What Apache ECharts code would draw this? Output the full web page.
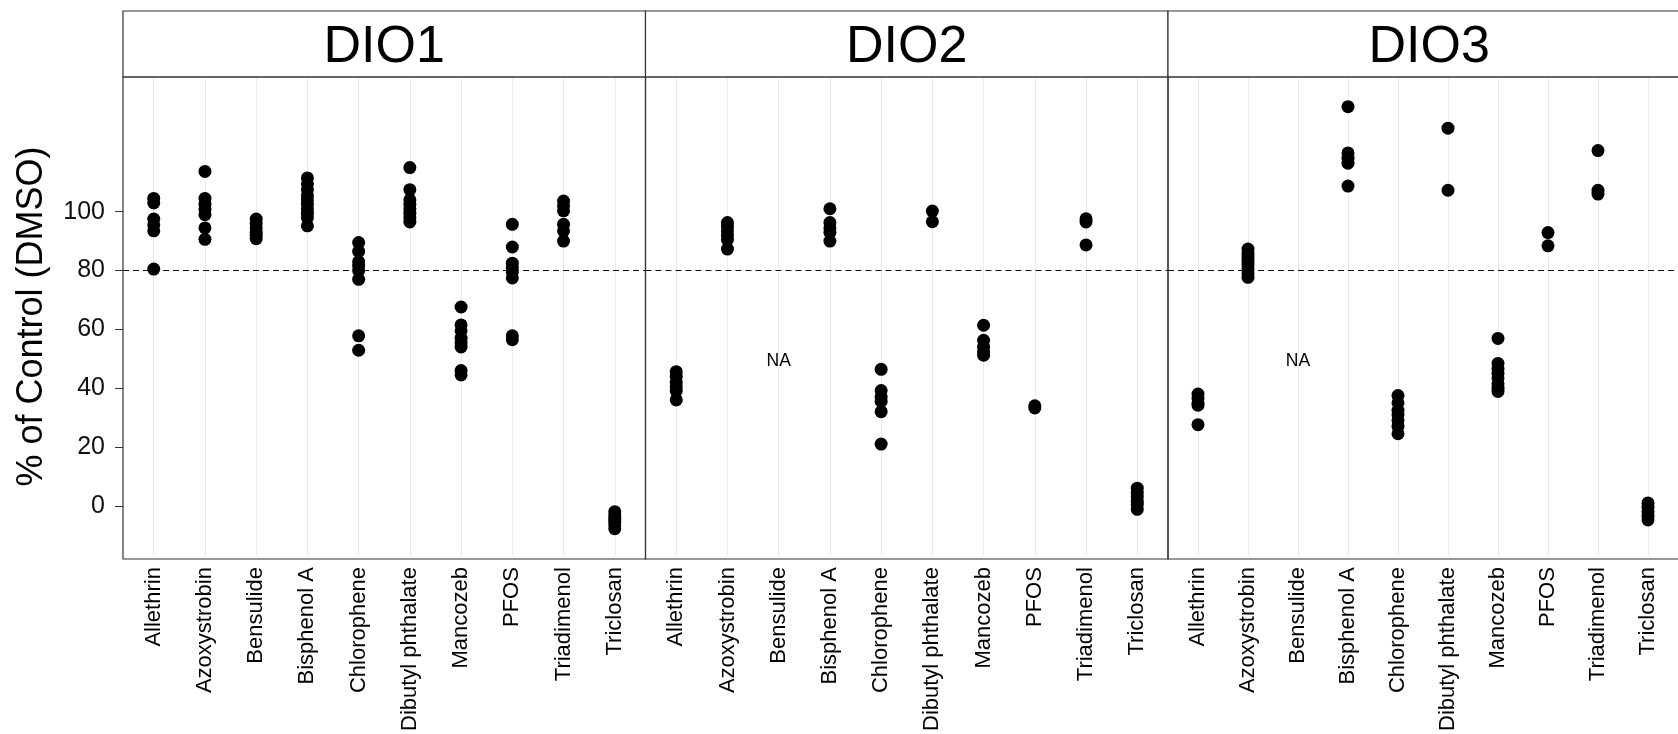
<!DOCTYPE html>
<html>
<head>
<meta charset="utf-8">
<script src="https://cdn.jsdelivr.net/npm/echarts@6/dist/echarts.min.js"></script>
<style>
html,body{margin:0;padding:0;background:#fff;overflow:hidden;}
#chart{width:1678px;height:734px;}
</style>
</head>
<body>
<div id="chart"></div>
<script>
// ---------- data ----------
const categories = ['Allethrin','Azoxystrobin','Bensulide','Bisphenol A','Chlorophene','Dibutyl phthalate','Mancozeb','PFOS','Triadimenol','Triclosan'];
const panels = ['DIO1','DIO2','DIO3'];
const yTicks = [0, 20, 40, 60, 80, 100];
const threshold = 80;
const naLabelY = 49.3;
const yTitle = '% of Control (DMSO)';

const dio1 = [
  [104.5, 103, 97.5, 95.5, 93.5, 80.5],
  [113.7, 104.5, 102.5, 100.8, 99, 94.5, 90.6],
  [97.5, 96, 94.5, 93, 92, 90.8],
  [111.5, 109.5, 107.5, 105.5, 104, 102.5, 101, 99.5, 98, 95.2],
  [89.5, 86.5, 83, 81.5, 80, 77, 57.8, 52.9],
  [115, 107.5, 104, 102.5, 101, 99.5, 98, 96.5],
  [67.6, 61.5, 59.5, 57, 55.5, 54, 46, 44.5],
  [95.7, 88, 82.5, 81, 79.5, 77.5, 57.8, 56.5],
  [103.6, 102, 100.3, 95.7, 93.5, 90],
  [-2, -3.5, -4.5, -5.5, -6.5, -7.8]
];
const dio2 = [
  [45.6, 44, 42, 40.5, 39, 36],
  [96.3, 95, 93.5, 92, 90.5, 87.3],
  [],
  [101, 96.3, 94.5, 93, 90],
  [46.4, 39.2, 37, 35.5, 32, 21],
  [100.2, 96.6],
  [61.4, 56.3, 54, 52.4, 51.2],
  [34, 33.3],
  [97.6, 96.5, 88.7],
  [6, 4.5, 3, 1.5, 0.5, -1.2]
];
const dio3 = [
  [38, 36.5, 35, 34.2, 27.6],
  [87.3, 86, 85, 84, 83, 82, 80.5, 79, 77.7],
  [],
  [135.7, 120, 118.2, 116.5, 108.7],
  [37.5, 35, 32.5, 31, 29, 27, 24.5],
  [128.4, 107.3],
  [56.9, 48.4, 46.5, 45, 43.5, 41.5, 40, 38.9],
  [92.9, 88.4],
  [120.8, 107.3, 106],
  [1, -0.5, -2, -3.5, -4.8]
];
const panelData = [dio1, dio2, dio3];

// ---------- layout ----------
const FONT = '"Liberation Sans", Arial, Helvetica, sans-serif';
const L = 123, PW = 522.5, TOP = 77, H = 482, STRIP_TOP = 11;
const Y_MIN = -17.1, Y_MAX = 145.8;
const catIdx = categories.map((c, i) => i);

const grids = [], xAxes = [], yAxes = [], series = [], graphics = [];

panels.forEach((p, pi) => {
  const left = L + pi * PW;
  grids.push({left: left, top: TOP, width: PW, height: H, containLabel: false});
  xAxes.push({
    type: 'value', gridIndex: pi, min: -0.6, max: 9.6, position: 'bottom',
    axisLine: {show: false, onZero: false},
    axisTick: {show: false, customValues: catIdx},
    axisLabel: {
      customValues: catIdx, rotate: 90, margin: 11, padding: [4, 0, 0, 0],
      fontFamily: FONT, fontSize: 22, color: '#000',
      formatter: v => categories[Math.round(v)]
    },
    splitLine: {show: true, lineStyle: {color: '#ebebeb', width: 1}}
  });
  yAxes.push({
    type: 'value', gridIndex: pi, min: Y_MIN, max: Y_MAX, position: 'left',
    axisLine: {show: false, onZero: false},
    axisTick: {show: pi === 0, customValues: yTicks, length: 8, lineStyle: {color: '#333', width: 1}},
    axisLabel: {show: pi === 0, customValues: yTicks, margin: 18, fontFamily: FONT, fontSize: 25, color: '#111'},
    splitLine: {show: false},
    name: pi === 0 ? yTitle : '',
    nameLocation: 'middle', nameRotate: 90, nameGap: 73,
    nameTextStyle: {fontFamily: FONT, fontSize: 36, color: '#000'}
  });

  const pts = [];
  panelData[pi].forEach((vals, ci) => vals.forEach(v => pts.push([ci, v])));
  series.push({
    type: 'scatter', xAxisIndex: pi, yAxisIndex: pi, z: 10,
    symbol: 'circle', symbolSize: 13,
    itemStyle: {color: '#000', opacity: 1},
    data: pts, silent: true
  });
  // threshold dashed line
  series.push({
    type: 'line', xAxisIndex: pi, yAxisIndex: pi, z: 1, data: [],
    markLine: {
      silent: true, symbol: ['none', 'none'], z: 1,
      label: {show: false},
      lineStyle: {type: [6, 4], color: '#111', width: 1},
      data: [{yAxis: threshold}]
    }
  });
  // NA labels for empty categories
  const naPts = [];
  panelData[pi].forEach((vals, ci) => { if (vals.length === 0) naPts.push([ci, naLabelY]); });
  if (naPts.length) {
    series.push({
      type: 'scatter', xAxisIndex: pi, yAxisIndex: pi, z: 11, symbolSize: 0,
      itemStyle: {color: '#000', opacity: 1},
      data: naPts, silent: true,
      label: {show: true, position: 'inside', formatter: 'NA', fontFamily: FONT, fontSize: 17.5, color: '#000', opacity: 1}
    });
  }

  // strip
  graphics.push({
    type: 'rect', shape: {x: left, y: STRIP_TOP, width: PW, height: TOP - STRIP_TOP},
    style: {fill: '#fff', stroke: '#333', lineWidth: 1.2}, z: 50
  });
  graphics.push({
    type: 'text', x: left + PW / 2, y: (STRIP_TOP + TOP) / 2 + 3.5,
    style: {text: p, fontFamily: FONT, fontSize: 52, fill: '#000', align: 'center', verticalAlign: 'middle'}, z: 51
  });
  // panel border
  graphics.push({
    type: 'rect', shape: {x: left, y: TOP, width: PW, height: H},
    style: {fill: 'none', stroke: '#333', lineWidth: 1.2}, z: 50, silent: true
  });
});

const chart = echarts.init(document.getElementById('chart'), null, {renderer: 'canvas'});
chart.setOption({
  backgroundColor: '#fff',
  animation: false,
  grid: grids,
  xAxis: xAxes,
  yAxis: yAxes,
  series: series,
  graphic: graphics
});
</script>
</body>
</html>
